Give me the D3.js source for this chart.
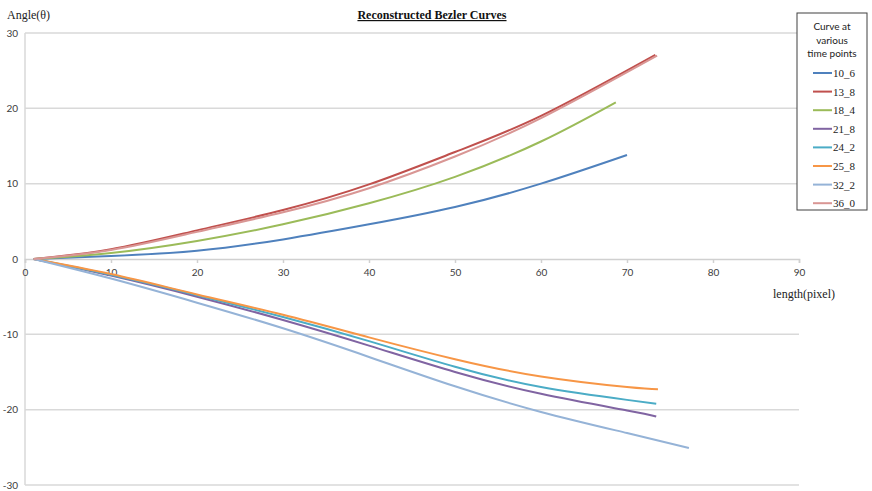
<!DOCTYPE html>
<html>
<head>
<meta charset="utf-8">
<script src="https://cdn.jsdelivr.net/npm/d3@7"></script>
<style>
  body { margin: 0; background: #fff; }
  svg { display: block; }
</style>
</head>
<body>
<svg id="chart" width="872" height="491"></svg>
<script>
// 数据：每条曲线 [length, angle]
var names = ['10_6', '13_8', '18_4', '21_8', '24_2', '25_8', '32_2', '36_0'];
var colors = ['#4f81bd', '#c0504d', '#9bbb59', '#8064a2', '#4bacc6', '#f79646', '#95b3d7', '#d99694'];

var curve10_6 = [[1, 0], [10, 0.4], [20, 1.1], [30, 2.6], [40, 4.6], [50, 6.9], [60, 10.0], [70, 13.8]];
var curve13_8 = [[1, 0], [10, 1.3], [20, 3.8], [30, 6.5], [40, 9.9], [50, 14.2], [60, 19.0], [73.3, 27.1]];
var curve18_4 = [[1, 0], [10, 0.8], [20, 2.4], [30, 4.6], [40, 7.4], [50, 10.9], [60, 15.6], [68.7, 20.8]];
var curve21_8 = [[1, 0], [10, -2.2], [20, -5.0], [30, -8.1], [40, -11.5], [50, -15.0], [60, -17.9], [70, -20.1], [73.4, -20.9]];
var curve24_2 = [[1, 0], [10, -2.1], [20, -4.8], [30, -7.7], [40, -10.9], [50, -14.3], [60, -17.0], [70, -18.7], [73.4, -19.2]];
var curve25_8 = [[1, 0], [10, -2.0], [20, -4.7], [30, -7.4], [40, -10.4], [50, -13.3], [60, -15.6], [70, -17.0], [73.6, -17.3]];
var curve32_2 = [[1, 0], [10, -2.6], [20, -5.8], [30, -9.2], [40, -13.0], [50, -16.9], [60, -20.3], [70, -23.1], [77.2, -25.1]];
var curve36_0 = [[1, 0], [10, 1.2], [20, 3.6], [30, 6.2], [40, 9.4], [50, 13.6], [60, 18.7], [73.5, 27.0]];

var curves = [curve10_6, curve13_8, curve18_4, curve21_8, curve24_2, curve25_8, curve32_2, curve36_0];

var xTicks = [0, 10, 20, 30, 40, 50, 60, 70, 80, 90];
var yTicks = [-30, -20, -10, 0, 10, 20, 30];

var svg = d3.select('#chart');

var x = d3.scaleLinear().domain([0, 90]).range([25, 799]);
var y = d3.scaleLinear().domain([-30, 30]).range([485, 33]);

var labelFont = 'Lato, "Open Sans", sans-serif';
var serif = '"Liberation Serif", "DejaVu Serif", serif';

/*************** 网格线 ***************/
svg.append('g').selectAll('line').data(yTicks.filter(function(d) { return d !== 0; }))
    .enter().append('line')
    .attr('x1', x(0)).attr('x2', x(90))
    .attr('y1', function(d) { return y(d); })
    .attr('y2', function(d) { return y(d); })
    .attr('stroke', '#d9d9d9').attr('stroke-width', 1.5);

// 纵轴
svg.append('line')
    .attr('x1', x(0)).attr('x2', x(0))
    .attr('y1', y(30)).attr('y2', y(-30))
    .attr('stroke', '#d9d9d9').attr('stroke-width', 1.5);

// 纵轴刻度标签
svg.append('g').selectAll('text').data(yTicks)
    .enter().append('text')
    .attr('x', 18)
    .attr('y', function(d) { return y(d) + 3.5; })
    .attr('text-anchor', 'end')
    .style('font-family', labelFont)
    .style('font-size', '10px')
    .style('fill', '#404040')
    .text(function(d) { return d; });

// 横轴（在 0 处）
var xAxis = d3.axisBottom(x).tickValues(xTicks).tickSize(4).tickPadding(6);
var gx = svg.append('g')
    .attr('transform', 'translate(0,' + y(0) + ')')
    .call(xAxis);
gx.select('.domain').attr('stroke', '#d0d0d0').attr('stroke-width', 1.5);
gx.selectAll('.tick line').attr('stroke', '#d0d0d0').attr('stroke-width', 1.5);
gx.selectAll('.tick text')
    .style('font-family', labelFont)
    .style('font-size', '10px')
    .style('fill', '#404040');

/*************** 曲线 ***************/
var line = d3.line()
    .x(function(d) { return x(d[0]); })
    .y(function(d) { return y(d[1]); })
    .curve(d3.curveNatural);

svg.append('g').selectAll('path').data(curves)
    .enter().append('path')
    .attr('d', line)
    .attr('fill', 'none')
    .attr('stroke', function(d, i) { return colors[i]; })
    .attr('stroke-width', 2);

/*************** 标题与轴名 ***************/
svg.append('text')
    .attr('x', 432).attr('y', 19)
    .attr('text-anchor', 'middle')
    .style('font-family', serif)
    .style('font-size', '12px')
    .style('font-weight', 'bold')
    .style('text-decoration', 'underline')
    .style('fill', '#111')
    .text('Reconstructed Bezler Curves');

svg.append('text')
    .attr('x', 7).attr('y', 19)
    .style('font-family', serif)
    .style('font-size', '12px')
    .style('fill', '#222')
    .text('Angle(θ)');

svg.append('text')
    .attr('x', 835).attr('y', 298)
    .attr('text-anchor', 'end')
    .style('font-family', serif)
    .style('font-size', '12px')
    .style('fill', '#222')
    .text('length(pixel)');

/*************** 图例 ***************/
var legend = svg.append('g');
legend.append('rect')
    .attr('x', 797).attr('y', 13)
    .attr('width', 70).attr('height', 197)
    .attr('fill', '#fff')
    .attr('stroke', '#404040').attr('stroke-width', 1);

var legendTitle = ['Curve at', 'various', 'time points'];
legend.selectAll('text.title').data(legendTitle)
    .enter().append('text')
    .attr('class', 'title')
    .attr('x', 832)
    .attr('y', function(d, i) { return 30 + i * 13.5; })
    .attr('text-anchor', 'middle')
    .style('font-family', labelFont)
    .style('font-size', '10px')
    .style('fill', '#222')
    .text(function(d) { return d; });

var item = legend.selectAll('g.item').data(names)
    .enter().append('g')
    .attr('class', 'item')
    .attr('transform', function(d, i) { return 'translate(0,' + (73 + i * 18.6) + ')'; });

item.append('line')
    .attr('x1', 813).attr('x2', 832)
    .attr('y1', 0).attr('y2', 0)
    .attr('stroke', function(d, i) { return colors[i]; })
    .attr('stroke-width', 2);

item.append('text')
    .attr('x', 833).attr('y', 4)
    .style('font-family', serif)
    .style('font-size', '11px')
    .style('fill', '#222')
    .text(function(d) { return d; });
</script>
</body>
</html>
